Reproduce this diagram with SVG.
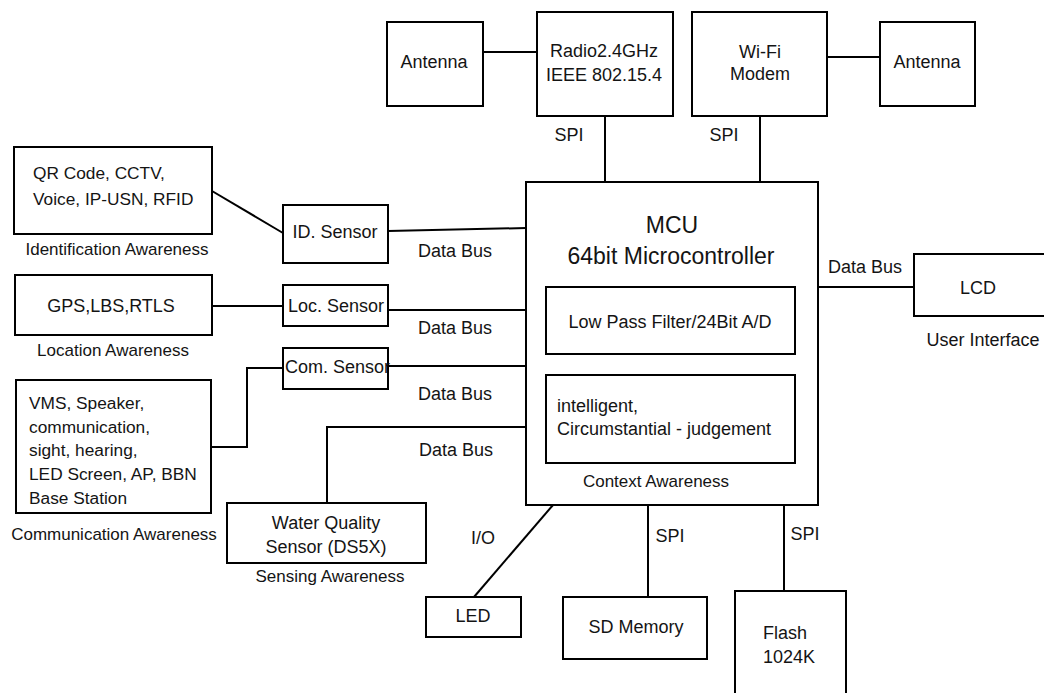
<svg xmlns="http://www.w3.org/2000/svg" width="1044" height="693" viewBox="0 0 1044 693">
<style>
  .box { fill: #fff; stroke: #000; stroke-width: 2; }
  .ln { fill: none; stroke: #000; stroke-width: 2; }
  text { font-family: "Liberation Sans", Arial, sans-serif; fill: #141414; dominant-baseline: central; }
  .t { font-size: 18px; }
  .s { font-size: 17.3px; }
  .c { text-anchor: middle; }
  .lab { font-size: 17px; }
  .big { font-size: 23px; }
</style>
<rect width="1044" height="693" fill="#fff"/>

<g id="connectors">
  <line class="ln" x1="483" y1="52" x2="537" y2="52"/>
  <line class="ln" x1="827" y1="57" x2="880" y2="57"/>
  <line class="ln" x1="605" y1="116" x2="605" y2="182"/>
  <line class="ln" x1="760" y1="116" x2="760" y2="182"/>
  <line class="ln" x1="212" y1="191" x2="283" y2="233"/>
  <line class="ln" x1="388" y1="231" x2="526" y2="228"/>
  <line class="ln" x1="212" y1="306" x2="283" y2="306"/>
  <line class="ln" x1="388" y1="310" x2="526" y2="310"/>
  <polyline class="ln" points="283,368 247,368 247,447 211,447"/>
  <line class="ln" x1="388" y1="366" x2="526" y2="366"/>
  <polyline class="ln" points="327,503 327,427 526,427"/>
  <line class="ln" x1="818" y1="287" x2="914" y2="287"/>
  <line class="ln" x1="553" y1="505" x2="474" y2="597"/>
  <line class="ln" x1="648" y1="505" x2="648" y2="597"/>
  <line class="ln" x1="784" y1="505" x2="784" y2="591"/>
</g>

<g id="antenna-left">
  <rect class="box" x="387" y="22" width="96" height="84"/>
  <text class="t c" x="434" y="62">Antenna</text>
</g>
<g id="radio">
  <rect class="box" x="537" y="12" width="136" height="104"/>
  <text class="t c" x="604" y="51">Radio2.4GHz</text>
  <text class="t c" x="604" y="75">IEEE 802.15.4</text>
</g>
<g id="wifi">
  <rect class="box" x="692" y="12" width="135" height="104"/>
  <text class="t c" x="760" y="52">Wi-Fi</text>
  <text class="t c" x="760" y="74">Modem</text>
</g>
<g id="antenna-right">
  <rect class="box" x="880" y="22" width="95" height="84"/>
  <text class="t c" x="927" y="62">Antenna</text>
</g>
<g id="spi-labels">
  <text class="t c" x="569" y="135">SPI</text>
  <text class="t c" x="724" y="135">SPI</text>
  <text class="t c" x="670" y="536">SPI</text>
  <text class="t c" x="805" y="534">SPI</text>
  <text class="t c" x="483" y="538">I/O</text>
</g>
<g id="databus-labels">
  <text class="t c" x="455" y="251">Data Bus</text>
  <text class="t c" x="455" y="328">Data Bus</text>
  <text class="t c" x="455" y="394">Data Bus</text>
  <text class="t c" x="456" y="450">Data Bus</text>
  <text class="t c" x="865" y="267">Data Bus</text>
</g>

<g id="qr">
  <rect class="box" x="14" y="147" width="198" height="87"/>
  <text class="s" x="33" y="173">QR Code, CCTV,</text>
  <text class="s" x="33" y="199">Voice, IP-USN, RFID</text>
  <text class="lab c" x="117" y="249">Identification Awareness</text>
</g>
<g id="id-sensor">
  <rect class="box" x="283" y="205" width="105" height="58"/>
  <text class="t c" x="335" y="232">ID. Sensor</text>
</g>
<g id="gps">
  <rect class="box" x="15" y="275" width="197" height="60"/>
  <text class="t c" x="111" y="306">GPS,LBS,RTLS</text>
  <text class="lab c" x="113" y="350">Location Awareness</text>
</g>
<g id="loc-sensor">
  <rect class="box" x="283" y="285" width="105" height="41"/>
  <text class="t c" x="336" y="306">Loc. Sensor</text>
</g>
<g id="com-sensor">
  <rect class="box" x="283" y="348" width="105" height="41"/>
  <text class="t" x="285" y="367">Com. Sensor</text>
</g>
<g id="vms">
  <rect class="box" x="16" y="380" width="195" height="133"/>
  <text class="s" x="29" y="403">VMS, Speaker,</text>
  <text class="s" x="29" y="427">communication,</text>
  <text class="s" x="29" y="450">sight, hearing,</text>
  <text class="s" x="29" y="474">LED Screen, AP, BBN</text>
  <text class="s" x="29" y="498">Base Station</text>
  <text class="lab c" x="114" y="534">Communication Awareness</text>
</g>
<g id="water">
  <rect class="box" x="227" y="503" width="199" height="60"/>
  <text class="t c" x="326" y="523">Water Quality</text>
  <text class="t c" x="326" y="547">Sensor (DS5X)</text>
  <text class="lab c" x="330" y="576">Sensing Awareness</text>
</g>

<g id="mcu">
  <rect class="box" x="526" y="182" width="292" height="323"/>
  <text class="big c" x="672" y="225">MCU</text>
  <text class="big c" x="671" y="256">64bit Microcontroller</text>
  <rect class="box" x="546" y="287" width="249" height="67"/>
  <text class="t c" x="670" y="322">Low Pass Filter/24Bit A/D</text>
  <rect class="box" x="546" y="375" width="249" height="88"/>
  <text class="t" x="557" y="406">intelligent,</text>
  <text class="t" x="557" y="429">Circumstantial - judgement</text>
  <text class="lab c" x="656" y="481">Context Awareness</text>
</g>

<g id="lcd">
  <rect class="box" x="914" y="254" width="140" height="62"/>
  <text class="t c" x="978" y="288">LCD</text>
  <text class="t c" x="983" y="340">User Interface</text>
</g>
<g id="led">
  <rect class="box" x="426" y="597" width="95" height="40"/>
  <text class="t c" x="473" y="616">LED</text>
</g>
<g id="sd">
  <rect class="box" x="563" y="597" width="144" height="62"/>
  <text class="t c" x="636" y="627">SD Memory</text>
</g>
<g id="flash">
  <rect class="box" x="735" y="591" width="111" height="112"/>
  <text class="t" x="763" y="633">Flash</text>
  <text class="t" x="763" y="657">1024K</text>
</g>
</svg>
